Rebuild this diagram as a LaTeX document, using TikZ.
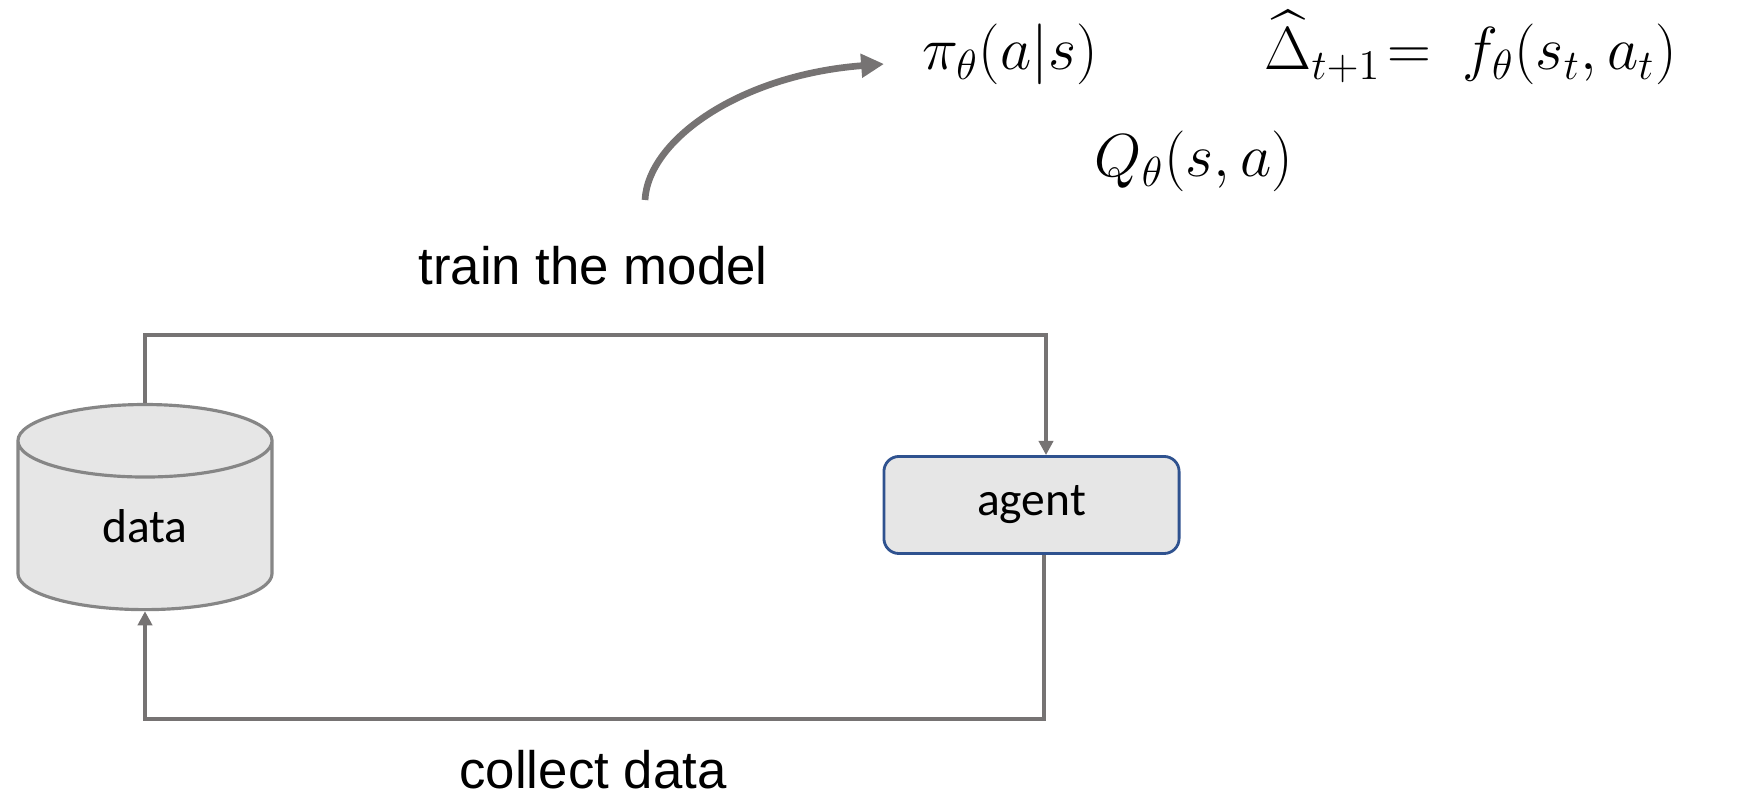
\documentclass[tikz,border=0pt]{standalone}
\usepackage[no-math]{fontspec}
\usepackage{amsmath}
\setmainfont{Carlito}
\newfontfamily\arialfont{Liberation Sans}
\usetikzlibrary{shapes.geometric,arrows.meta}

\definecolor{linegray}{RGB}{118,115,115}
\definecolor{boxgray}{RGB}{230,230,230}
\definecolor{boxblue}{RGB}{47,82,143}

\tikzset{
    flow/.style={draw=linegray, line width=1pt, -{Triangle[length=4pt,width=4pt]}},
    label/.style={font=\arialfont\fontsize{15}{18}\selectfont},
    formula/.style={font=\fontsize{18}{21}\selectfont, anchor=base west, inner sep=0pt}
}

\begin{document}
\begin{tikzpicture}[x=0.01cm, y=-0.01cm]
    \useasboundingbox (0,0) rectangle (1739,795);

    % Data store and agent
    \node[cylinder, shape border rotate=90, aspect=0.85, draw=gray!95, line width=0.9pt,
          fill=boxgray, minimum width=2.54cm, minimum height=2.05cm, inner sep=0pt,
          font=\fontsize{13.5}{16}\selectfont] (data) at (145,526) {data};
    \node[rounded corners=0.15cm, draw=boxblue, line width=0.8pt, fill=boxgray,
          minimum width=2.95cm, minimum height=0.97cm,
          font=\fontsize{13.5}{16}\selectfont] (agent) at (1031.5,505) {agent};

    % Loop
    \coordinate (tr) at (1046,335);
    \coordinate (br) at (1044,719);
    \draw[flow] (data.north) |- (tr) -- (tr |- agent.north);
    \draw[flow] (br |- agent.south) -- (br) -| (data.south);

    \node[label] (train) at (593,266) {train the model};
    \node[label] (collect) at (593,770) {collect data};

    % Models
    \node[formula] (pi) at (922,70) {$\pi_\theta(a|s)$};
    \node[formula] (dyn) at (1264,70) {$\widehat{\Delta}_{t+1}\!=\ f_\theta(s_t,a_t)$};
    \node[formula] (qfun) at (1094,177) {$Q_\theta(s,a)$};

    % Curved arrow
    \coordinate (start) at (645,200);
    \coordinate (tip) at (884,64);
    \draw[draw=linegray, line width=1.9pt, -{Triangle[length=6.5pt,width=6.5pt]}]
        (start) .. controls (648,140) and (740,75) .. (tip);
\end{tikzpicture}
\end{document}
